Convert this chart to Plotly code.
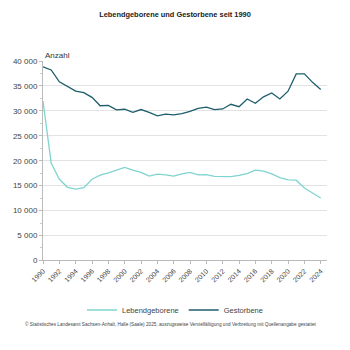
import plotly.graph_objects as go

years = list(range(1990, 2025))
lebendgeborene = [31960, 19550, 16280, 14660, 14290, 14590, 16280, 17110, 17540, 18160,
                  18670, 18100, 17670, 16920, 17300, 17160, 16920, 17350, 17670, 17160,
                  17220, 16850, 16850, 16790, 17040, 17410, 18100, 17920, 17350, 16600,
                  16170, 16090, 14530, 13540, 12520]
gestorbene = [38840, 38200, 35830, 34970, 33950, 33650, 32710, 31020, 31080, 30190,
              30320, 29700, 30260, 29700, 29000, 29330, 29200, 29440, 29890, 30510,
              30760, 30260, 30380, 31320, 30830, 32390, 31510, 32820, 33580, 32390,
              33950, 37410, 37410, 35720, 34270]
y_ticks = [0, 5000, 10000, 15000, 20000, 25000, 30000, 35000, 40000]
y_tick_labels = ["0", "5 000", "10 000", "15 000", "20 000", "25 000", "30 000", "35 000", "40 000"]
x_ticks = list(range(1990, 2025, 2))

FONT = "Liberation Sans, Arial, sans-serif"
H = 350
T, B = 61, 77
PH = H - T - B

fig = go.Figure()
fig.add_trace(go.Scatter(x=years, y=lebendgeborene, mode="lines", name="Lebendgeborene",
                         line=dict(color="#7fd4cf", width=1.3)))
fig.add_trace(go.Scatter(x=years, y=gestorbene, mode="lines", name="Gestorbene",
                         line=dict(color="#1c5e6c", width=1.3)))

fig.update_layout(
    width=350, height=H,
    margin=dict(l=43, r=23, t=T, b=B),
    paper_bgcolor="white", plot_bgcolor="white",
    font=dict(family=FONT, size=8, color="#333333"),
    title=dict(text="<b>Lebendgeborene und Gestorbene seit 1990</b>", x=0.5, xanchor="center",
               y=1 - 14 / H, yanchor="middle", font=dict(size=7.4, color="#222222")),
    showlegend=True,
    legend=dict(orientation="h", xref="container", x=0.5, xanchor="center",
                yref="container", y=1 - 310 / H, yanchor="middle",
                font=dict(size=7.5, color="#444444"), tracegroupgap=0),
    xaxis=dict(range=[1990, 2024.77], tickmode="array", tickvals=x_ticks,
               ticktext=[str(v) for v in x_ticks], tickangle=-45,
               showgrid=False, zeroline=False, showline=True, linecolor="#bbbbbb", linewidth=1,
               ticks="outside", ticklen=3, tickcolor="#bbbbbb",
               tickfont=dict(size=7, color="#444444")),
    yaxis=dict(range=[0, 40000], tickmode="array", tickvals=y_ticks, ticktext=y_tick_labels,
               showgrid=True, gridcolor="#e3e3e3", gridwidth=1, zeroline=False,
               showline=True, linecolor="#bbbbbb", linewidth=1,
               ticks="outside", ticklen=3, tickcolor="#bbbbbb",
               minor=dict(dtick=2500, tick0=0, ticks="outside", ticklen=2, tickcolor="#cccccc", showgrid=False),
               tickfont=dict(size=8, color="#444444")),
)
fig.add_annotation(text="Anzahl", xref="paper", yref="paper", x=0, y=1, xanchor="left",
                   yanchor="bottom", showarrow=False, font=dict(size=8, color="#333333"), yshift=-1)
fig.add_annotation(text="© Statistisches Landesamt Sachsen-Anhalt, Halle (Saale) 2025, auszugsweise Vervielfältigung und Verbreitung mit Quellenangabe gestattet",
                   xref="paper", yref="paper", x=0.45, y=(H - B - 341) / PH, xanchor="center",
                   yanchor="middle", showarrow=False, font=dict(size=4.7, color="#444444"))
fig.write_html("out.html")
